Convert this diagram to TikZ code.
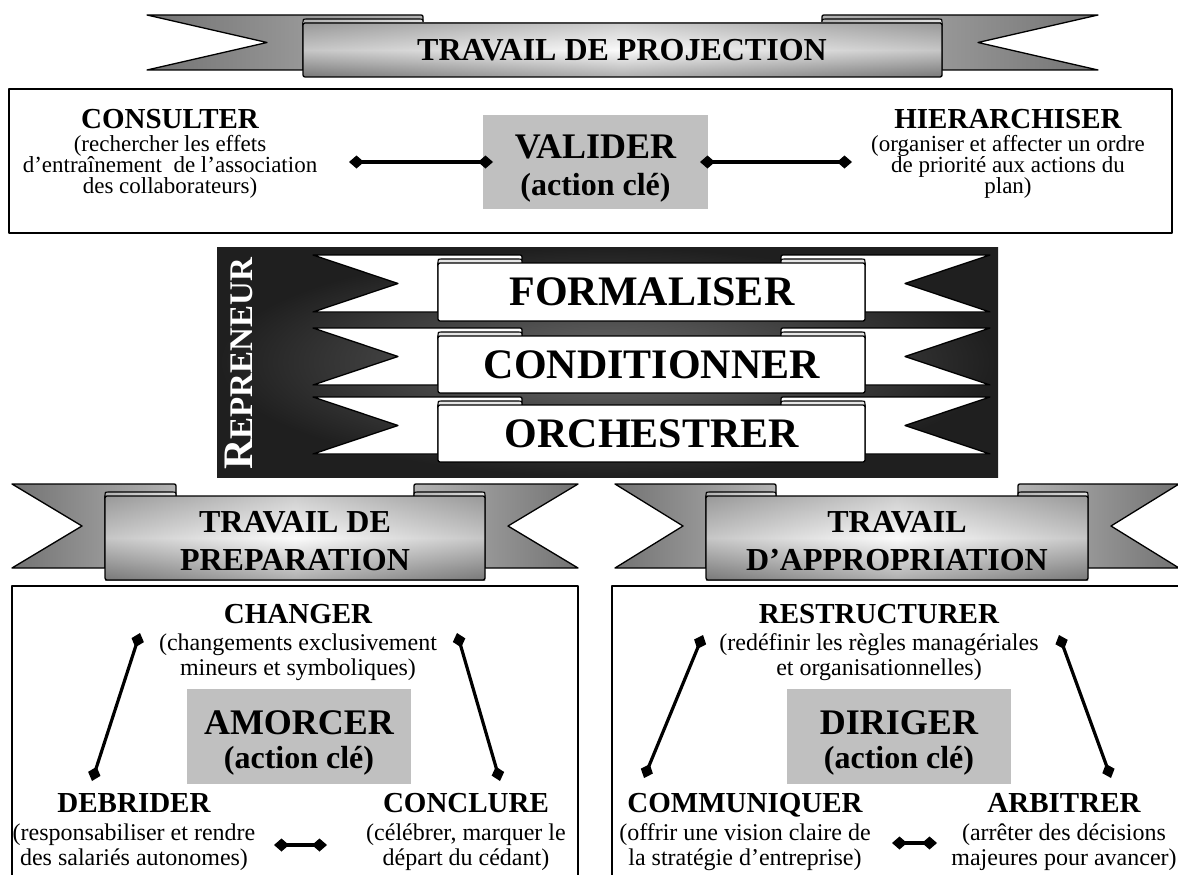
\documentclass[tikz,border=0pt]{standalone}
\usepackage{fontspec}
\setmainfont{Liberation Serif}
\usetikzlibrary{arrows.meta}
\definecolor{keygray}{HTML}{C0C0C0}
% #1 band left, #2 band right, #3 tail top, #4 tail bottom, #5 band top, #6 band bottom,
% #7 tail extension, #8 notch depth, #9 fold width
\newcommand\drawribbon[9]{%
  \pgfmathsetmacro\rbTipL{#1-#7}%
  \pgfmathsetmacro\rbTipR{#2+#7}%
  \pgfmathsetmacro\rbMid{(#3+#4)/2}%
  \pgfmathsetmacro\rbFL{#1+#9}%
  \pgfmathsetmacro\rbFR{#2-#9}%
  \path[ribtailL] (\rbTipL,#3) -- (\rbFL-4,#3) .. controls (\rbFL,#3) .. (\rbFL,#3+4) -- (\rbFL,#5) -- (#1,#5) -- (#1,#4) -- (\rbTipL,#4) -- (\rbTipL+#8,\rbMid) -- cycle;
  \path[ribtailR] (\rbTipR,#3) -- (\rbFR+4,#3) .. controls (\rbFR,#3) .. (\rbFR,#3+4) -- (\rbFR,#5) -- (#2,#5) -- (#2,#4) -- (\rbTipR,#4) -- (\rbTipR-#8,\rbMid) -- cycle;
  \path[ribroll] (#1,#5+3) -- (#1,#5-1) .. controls (#1,#5-4) .. (#1+3,#5-4) -- (\rbFL-3,#5-4) .. controls (\rbFL,#5-4) .. (\rbFL,#5-1) -- (\rbFL,#5+3) -- cycle;
  \path[ribroll] (#2,#5+3) -- (#2,#5-1) .. controls (#2,#5-4) .. (#2-3,#5-4) -- (\rbFR+3,#5-4) .. controls (\rbFR,#5-4) .. (\rbFR,#5-1) -- (\rbFR,#5+3) -- cycle;
  \path[ribband] (#1,#5) rectangle (#2,#6);
  \path[ribshade] (#1,#5) rectangle (#2,#6);
  \path[ribedge] (#1,#5) rectangle (#2,#6);
}
\begin{document}
\begin{tikzpicture}[x=1pt,y=-1pt, line join=round,
  frame/.style={draw=black, line width=1.6pt},
  conn/.style={line width=3.2pt, {Diamond[length=15pt,width=13pt]}-{Diamond[length=15pt,width=13pt]}},
  keybox/.style={fill=keygray, inner sep=0pt},
  ttl/.style={font=\bfseries\fontsize{29}{30}\selectfont, anchor=base, inner sep=0pt},
  desc/.style={font=\fontsize{24}{25}\selectfont, align=center, anchor=base, inner sep=0pt},
  descT/.style={font=\fontsize{23}{21}\selectfont, align=center, anchor=base, inner sep=0pt},
  keyT/.style={font=\bfseries\fontsize{36}{36}\selectfont, anchor=base, inner sep=0pt},
  keyS/.style={font=\bfseries\fontsize{32}{32}\selectfont, anchor=base, inner sep=0pt},
  banT/.style={font=\bfseries\fontsize{32}{37.5}\selectfont, align=center, anchor=base, inner sep=0pt},
  midT/.style={font=\bfseries\fontsize{42}{42}\selectfont, anchor=base, inner sep=0pt},
]
\fill[white] (0,0) rectangle (1178,875);
\clip (0,0) rectangle (1178,875);

% ---------- gray ribbons ----------
\begin{scope}[
  ribtailL/.style={left color=black!55, right color=black!30, draw=black, line width=1.3pt},
  ribtailR/.style={left color=black!30, right color=black!55, draw=black, line width=1.3pt},
  ribroll/.style={left color=black!30, right color=black!12, draw=black, line width=1.1pt},
  ribband/.style={left color=black!45, right color=black!45, middle color=black!3},
  ribshade/.style={top color=black!35, bottom color=black!60, middle color=white, fill opacity=0.5},
  ribedge/.style={draw=black, line width=1.3pt, rounded corners=2pt}]
  \drawribbon{303}{942}{15}{70}{23}{77}{156}{120}{120}
  \drawribbon{105}{485}{484}{568}{496}{580}{93}{70}{71}
  \drawribbon{706}{1088}{484}{568}{496}{580}{91}{68}{70}
\end{scope}
\node[banT] (tproj) at (622,60) {TRAVAIL DE PROJECTION};
\node[banT] (tprep) at (295,570) {TRAVAIL DE\\PREPARATION};
\node[banT] (tappr) at (897,570) {TRAVAIL\\D’APPROPRIATION};

% ---------- top box ----------
\draw[frame] (9,89) rectangle (1172,233);
\node[ttl] (consT) at (170,128) {CONSULTER};
\node[descT] (consD) at (170,193) {(rechercher les effets\\d’entraînement\ \ de l’association\\des collaborateurs)};
\node[keybox, minimum width=225pt, minimum height=94pt] (valbox) at (595.5,162) {};
\node[keyT] (valT) at (595.5,158) {VALIDER};
\node[keyS] (valS) at (595.5,195) {(action clé)};
\node[ttl] (hierT) at (1008,128) {HIERARCHISER};
\node[descT] (hierD) at (1008,193) {(organiser et affecter un ordre\\de priorité aux actions du\\plan)};
\coordinate (c1a) at (349,162); \coordinate (c1b) at (493,162);
\coordinate (c2a) at (700,162); \coordinate (c2b) at (852,162);
\draw[conn] (c1a) -- (c1b);
\draw[conn] (c2a) -- (c2b);

% ---------- REPRENEUR panel ----------
\shade[inner color=black!58, outer color=black!88] (217,247) rectangle (998,477);
\begin{scope}[
  ribtailL/.style={fill=white, draw=black, line width=1.3pt},
  ribtailR/.style={fill=white, draw=black, line width=1.3pt},
  ribroll/.style={fill=black!10, draw=black, line width=1.1pt},
  ribband/.style={fill=white},
  ribshade/.style={},
  ribedge/.style={draw=black, line width=1.3pt, rounded corners=2pt}]
  \drawribbon{438}{865}{255}{312}{263}{321}{125}{85}{84}
  \drawribbon{438}{865}{328}{385}{336}{393}{125}{85}{84}
  \drawribbon{438}{865}{397}{454}{405}{462}{125}{85}{84}
\end{scope}
\node[midT] (form) at (652,305) {FORMALISER};
\node[midT] (cond) at (652,378) {CONDITIONNER};
\node[midT] (orch) at (652,447) {ORCHESTRER};
\node[rotate=90, text=white, font=\bfseries, inner sep=0pt] (repr) at (239,364)
  {{\fontsize{42}{42}\selectfont R}{\fontsize{33}{33}\selectfont EPRENEUR}};

% ---------- bottom left box ----------
\draw[frame] (12,586) rectangle (578,890);
\node[ttl] (chgT) at (298,623) {CHANGER};
\node[desc] (chgD) at (298,675) {(changements exclusivement\\mineurs et symboliques)};
\node[keybox, minimum width=224pt, minimum height=95pt] (amobox) at (299,736.5) {};
\node[keyT] (amoT) at (299,734) {AMORCER};
\node[keyS] (amoS) at (299,768) {(action clé)};
\node[ttl] (debT) at (134,812) {DEBRIDER};
\node[desc] (debD) at (134,865) {(responsabiliser et rendre\\des salariés autonomes)};
\node[ttl] (conT) at (466,812) {CONCLURE};
\node[desc] (conD) at (466,865) {(célébrer, marquer le\\départ du cédant)};
\coordinate (d1a) at (140,633); \coordinate (d1b) at (92,781);
\coordinate (d2a) at (457,633); \coordinate (d2b) at (500,781);
\coordinate (d3a) at (274,845); \coordinate (d3b) at (327,845);
\draw[conn] (d1a) -- (d1b);
\draw[conn] (d2a) -- (d2b);
\draw[conn] (d3a) -- (d3b);

% ---------- bottom right box ----------
\draw[frame] (612,586) rectangle (1190,890);
\node[ttl] (resT) at (879,623) {RESTRUCTURER};
\node[desc] (resD) at (879,675) {(redéfinir les règles managériales\\et organisationnelles)};
\node[keybox, minimum width=224pt, minimum height=95pt] (dirbox) at (899,736.5) {};
\node[keyT] (dirT) at (899,734) {DIRIGER};
\node[keyS] (dirS) at (899,768) {(action clé)};
\node[ttl] (comT) at (745,812) {COMMUNIQUER};
\node[desc] (comD) at (745,865) {(offrir une vision claire de\\la stratégie d’entreprise)};
\node[ttl] (arbT) at (1064,812) {ARBITRER};
\node[desc] (arbD) at (1064,865) {(arrêter des décisions\\majeures pour avancer)};
\coordinate (e1a) at (703,635); \coordinate (e1b) at (644,778);
\coordinate (e2a) at (1059,635); \coordinate (e2b) at (1111,778);
\coordinate (e3a) at (892,843); \coordinate (e3b) at (937,843);
\draw[conn] (e1a) -- (e1b);
\draw[conn] (e2a) -- (e2b);
\draw[conn] (e3a) -- (e3b);
\end{tikzpicture}
\end{document}
